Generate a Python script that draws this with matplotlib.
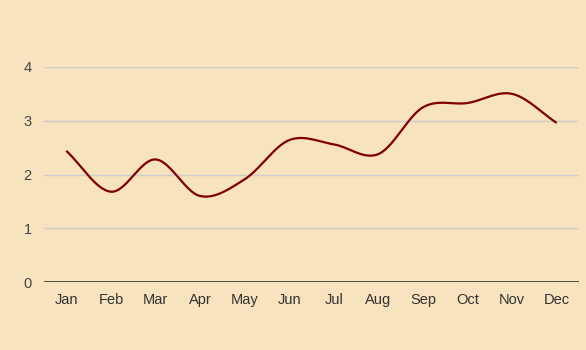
import numpy as np
import matplotlib.pyplot as plt

months = ['Jan', 'Feb', 'Mar', 'Apr', 'May', 'Jun',
          'Jul', 'Aug', 'Sep', 'Oct', 'Nov', 'Dec']
values = [2.44, 1.68, 2.28, 1.60, 1.91, 2.64,
          2.56, 2.38, 3.25, 3.33, 3.50, 2.96]
yticks = [0, 1, 2, 3, 4]

bg = '#F7E3BE'


def smooth(x, y, n=30):
    # catmull-rom style hermite curve through the points
    x = np.asarray(x, float)
    y = np.asarray(y, float)
    m = np.gradient(y, x)
    xs, ys = [], []
    for i in range(len(x) - 1):
        h = x[i + 1] - x[i]
        t = np.linspace(0, 1, n, endpoint=False)
        h00 = 2*t**3 - 3*t**2 + 1
        h10 = t**3 - 2*t**2 + t
        h01 = -2*t**3 + 3*t**2
        h11 = t**3 - t**2
        xs.append(x[i] + t*h)
        ys.append(h00*y[i] + h10*h*m[i] + h01*y[i+1] + h11*h*m[i+1])
    xs.append([x[-1]])
    ys.append([y[-1]])
    return np.concatenate(xs), np.concatenate(ys)


plt.rcParams['font.family'] = ['Liberation Sans', 'DejaVu Sans']

fig = plt.figure(figsize=(5.86, 3.5), dpi=100, facecolor=bg)
ax = fig.add_axes([44/586, (350-282)/350, (579-44)/586, (282-67)/350])
ax.set_facecolor(bg)

x = np.arange(len(months))
sx, sy = smooth(x, values)
ax.plot(sx, sy, color='#800000', lw=1.6, solid_capstyle='butt', zorder=3)

ax.set_xlim(-0.5, len(months) - 0.5)
ax.set_ylim(0, 4)
ax.set_yticks(yticks)
ax.set_xticks(x)
ax.set_xticklabels(months)
for yv in yticks[1:]:
    ax.axhline(yv, color='#cccccc', lw=1, zorder=1)
ax.axhline(0, color='#333333', lw=1.2, zorder=2)

for s in ax.spines.values():
    s.set_visible(False)
ax.tick_params(length=0, labelsize=10.5, colors='#333333')
ax.tick_params(axis='x', pad=8)
ax.tick_params(axis='y', pad=9)
for lbl in ax.get_yticklabels():
    lbl.set_color('#444444')

fig.savefig('out.png', dpi=100, facecolor=bg)
